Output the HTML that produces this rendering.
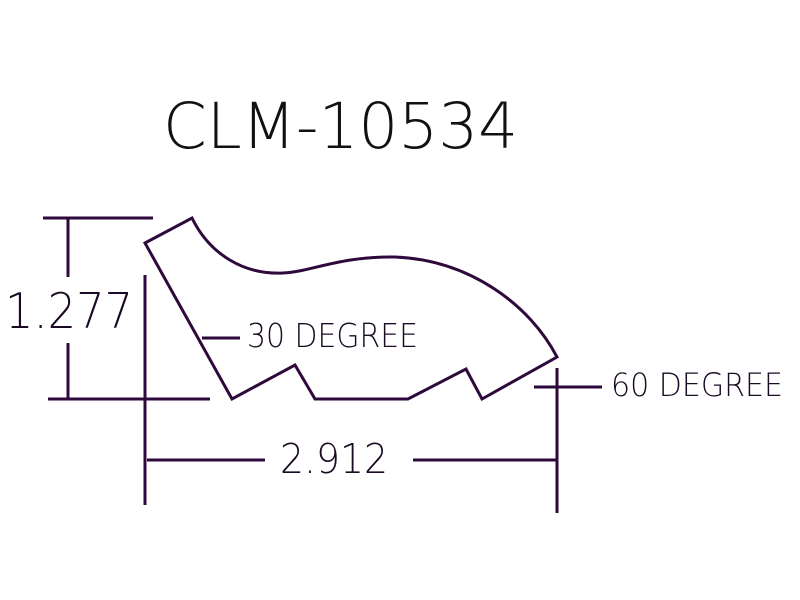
<!DOCTYPE html>
<html><head><style>html,body{margin:0;padding:0;background:#fff;width:800px;height:600px;overflow:hidden}</style></head>
<body>
<svg width="800" height="600" viewBox="0 0 800 600" xmlns="http://www.w3.org/2000/svg">
<g fill="none" stroke="#2e0a3c" stroke-width="3" stroke-linejoin="miter">
<path d="M145,243 L192,218 C210,255 245,275 283,273 C310,272 340,256 395,257 C470,260 530,305 557,357 L482,399 L466,369 L408,399 L315,399 L295,365 L232,399 Z"/>
<line x1="43" y1="218" x2="153" y2="218"/>
<line x1="68" y1="218" x2="68" y2="277"/>
<line x1="68" y1="343" x2="68" y2="399"/>
<line x1="48" y1="399" x2="210" y2="399"/>
<line x1="145" y1="275" x2="145" y2="505"/>
<line x1="147" y1="460" x2="265" y2="460"/>
<line x1="413" y1="460" x2="557" y2="460"/>
<line x1="557" y1="368" x2="557" y2="513"/>
<line x1="534" y1="387" x2="602" y2="387"/>
<line x1="202" y1="338" x2="240" y2="338"/>
</g>
<g font-family="'DejaVu Sans ExtraLight', 'DejaVu Sans', 'Liberation Sans', sans-serif" font-weight="200" fill="#1a0a24">
<text x="163" y="148" font-size="63" textLength="355" lengthAdjust="spacingAndGlyphs" fill="#111">CLM-10534</text>
<text x="5" y="328" font-size="49" textLength="128" lengthAdjust="spacingAndGlyphs">1.277</text>
<text x="280" y="473" font-size="41" textLength="108" lengthAdjust="spacingAndGlyphs">2.912</text>
<text x="247" y="347" font-size="33" textLength="171" lengthAdjust="spacingAndGlyphs">30 DEGREE</text>
<text x="611" y="396" font-size="32" textLength="172" lengthAdjust="spacingAndGlyphs">60 DEGREE</text>
</g>
</svg>
</body></html>
